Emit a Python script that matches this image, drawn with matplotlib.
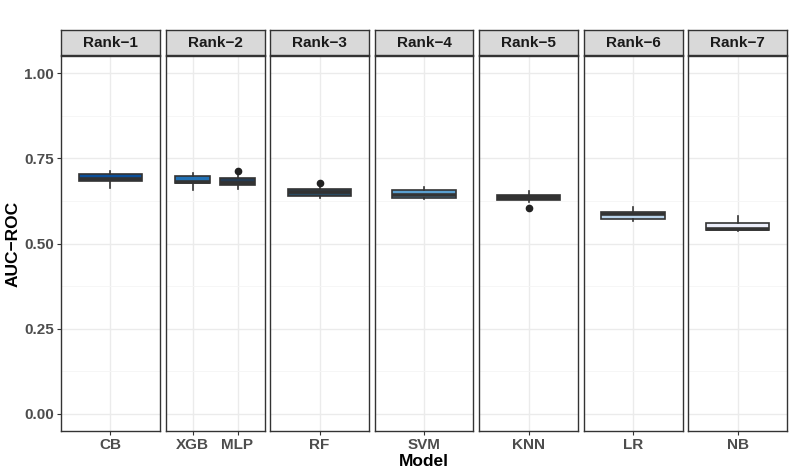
import matplotlib
matplotlib.use("Agg")
import matplotlib.pyplot as plt
from matplotlib.ticker import MultipleLocator

plt.rcParams['font.family'] = ['Liberation Sans', 'DejaVu Sans']

# facets and the models inside each one
ranks = ["Rank\u22121", "Rank\u22122", "Rank\u22123", "Rank\u22124", "Rank\u22125", "Rank\u22126", "Rank\u22127"]
rank_models = [["CB"], ["XGB", "MLP"], ["RF"], ["SVM"], ["KNN"], ["LR"], ["NB"]]

# box statistics per model (AUC-ROC)
models  = ["CB", "XGB", "MLP", "RF", "SVM", "KNN", "LR", "NB"]
whislo  = [0.664, 0.657, 0.660, 0.633, 0.632, 0.622, 0.566, 0.537]
q1      = [0.683, 0.677, 0.672, 0.639, 0.633, 0.628, 0.572, 0.539]
med     = [0.688, 0.681, 0.678, 0.651, 0.641, 0.634, 0.586, 0.543]
q3      = [0.703, 0.699, 0.691, 0.659, 0.657, 0.641, 0.592, 0.560]
whishi  = [0.713, 0.706, 0.700, 0.669, 0.667, 0.654, 0.606, 0.580]
fliers  = [[], [], [0.712], [0.678], [], [0.603], [], []]
fills   = ["#0b4f9a", "#2171b5", "#253b52", "#2a4a60", "#5a9fcf", "#2e2e2e", "#b9d3ea", "#eceefa"]

W, H = 793, 476
fig = plt.figure(figsize=(W / 100, H / 100), dpi=100)

def px(x0, y0, w, h):
    return [x0 / W, 1 - (y0 + h) / H, w / W, h / H]

panel_top, panel_bot = 56, 431
strip_top = 30
left0, step, pw = 61, 104.5, 99
edge = "#333333"
txt = "#4d4d4d"

axes = []
for i, (rank, mlist) in enumerate(zip(ranks, rank_models)):
    x0 = left0 + i * step
    ax = fig.add_axes(px(x0, panel_top, pw, panel_bot - panel_top))
    sax = fig.add_axes(px(x0, strip_top, pw, panel_top - strip_top - 1))
    sax.set_facecolor("#d9d9d9")
    sax.set_xticks([]); sax.set_yticks([])
    for s in sax.spines.values():
        s.set_color(edge); s.set_linewidth(1.0)
    sax.text(0.5, 0.48, rank, ha="center", va="center", fontsize=11,
             fontweight="bold", color="#1a1a1a", transform=sax.transAxes)

    stats = []
    cols = []
    for m in mlist:
        k = models.index(m)
        stats.append(dict(whislo=whislo[k], q1=q1[k], med=med[k], q3=q3[k],
                          whishi=whishi[k], fliers=fliers[k], label=m))
        cols.append(fills[k])
    pos = list(range(1, len(mlist) + 1))
    bp = ax.bxp(stats, positions=pos, widths=0.77, patch_artist=True,
                showcaps=False, manage_ticks=False,
                boxprops=dict(edgecolor=edge, linewidth=1.2),
                whiskerprops=dict(color=edge, linewidth=1.2),
                medianprops=dict(color=edge, linewidth=2.6),
                flierprops=dict(marker="o", markerfacecolor="#222222",
                                markeredgecolor="#222222", markersize=4.5))
    for patch, c in zip(bp["boxes"], cols):
        patch.set_facecolor(c)
        patch.set_zorder(3)
    for ln in bp["medians"] + bp["whiskers"] + bp["fliers"]:
        ln.set_zorder(4)

    ax.set_xlim(0.4, len(mlist) + 0.6)
    ax.set_ylim(-0.05, 1.05)
    ax.set_xticks(pos)
    ax.set_xticklabels(mlist, fontsize=11, fontweight="bold", color=txt)
    ax.yaxis.set_major_locator(MultipleLocator(0.25))
    ax.yaxis.set_minor_locator(MultipleLocator(0.125))
    ax.grid(True, which="major", color="#ebebeb", linewidth=1.0)
    ax.grid(True, which="minor", axis="y", color="#f5f5f5", linewidth=0.6)
    ax.set_axisbelow(True)
    ax.tick_params(axis="both", which="major", length=3, width=0.8, color=edge, pad=2)
    ax.tick_params(axis="y", which="minor", length=0)
    for s in ax.spines.values():
        s.set_color(edge); s.set_linewidth(1.0)
    if i == 0:
        ax.set_yticks([0, 0.25, 0.5, 0.75, 1.0])
        ax.set_yticklabels(["0.00", "0.25", "0.50", "0.75", "1.00"],
                           fontsize=11, fontweight="bold", color=txt)
    else:
        ax.tick_params(axis="y", which="major", length=0, labelleft=False)
    axes.append(ax)

fig.text(13 / W, 1 - ((panel_top + panel_bot) / 2) / H, "AUC\u2212ROC", rotation=90,
         ha="center", va="center", fontsize=12.5, fontweight="bold")
fig.text((left0 + 6 * step + pw + left0) / 2 / W, 1 - 461 / H, "Model",
         ha="center", va="center", fontsize=12.5, fontweight="bold")

fig.savefig("out.png", dpi=100)
